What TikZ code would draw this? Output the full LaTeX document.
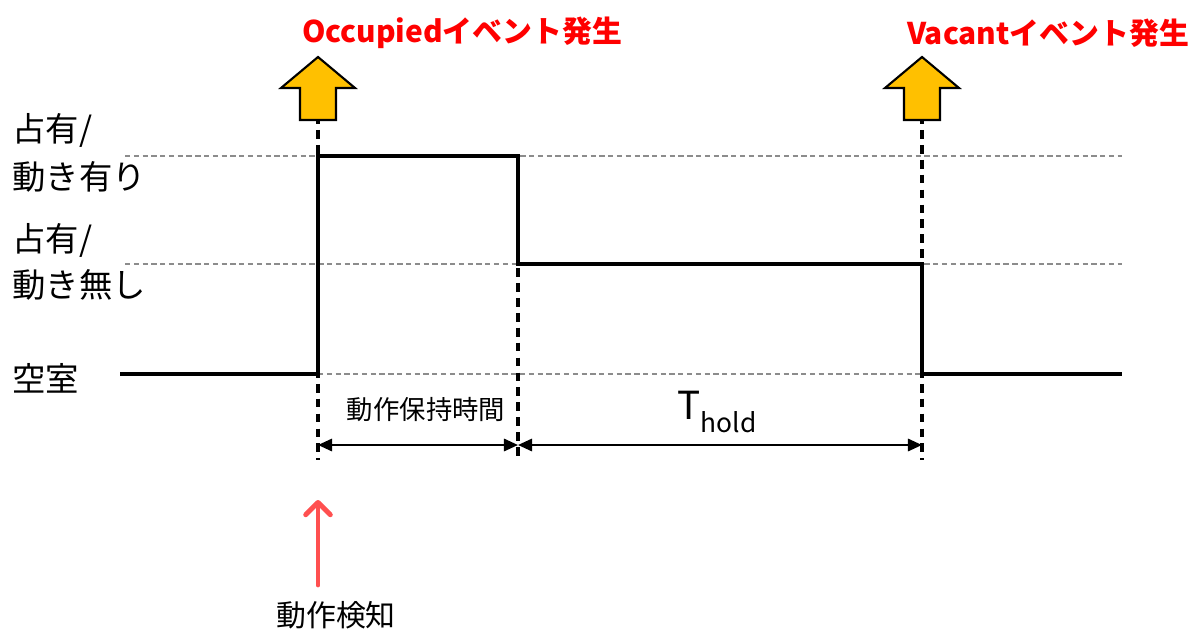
\documentclass[tikz,border=0pt]{standalone}
\usepackage{fontspec}
\setmainfont{Noto Sans CJK JP}
\usetikzlibrary{arrows.meta}
\definecolor{evtred}{RGB}{255,0,0}
\definecolor{blockyellow}{RGB}{255,192,0}
\definecolor{detred}{RGB}{255,80,80}

\begin{document}
\begin{tikzpicture}[x=0.02cm,y=-0.02cm,
    signal/.style={line width=2.2pt,black,line join=miter},
    guide/.style={line width=.6pt,black!45,dash pattern=on 3pt off 2pt},
    marker/.style={line width=2pt,black,dash pattern=on 5pt off 3.5pt},
    span/.style={line width=1.3pt,{Triangle[length=8pt,width=7pt]}-{Triangle[length=8pt,width=7pt]}},
    level/.style={anchor=west,inner sep=0pt,font=\fontsize{19}{22}\selectfont},
    event/.style={inner sep=0pt,text=evtred,font=\bfseries\fontsize{17}{20}\selectfont}]
    \useasboundingbox (0,0) rectangle (1196,632);

    % state levels
    \foreach \y/\n in {156/hi,264/mid} {
    \draw[guide] (125,\y) coordinate (g\n) -- (1122,\y);}
    \draw[guide] (318,374) -- (922,374);

    \node[level] (hi1) at (12,130) {占有/};
    \node[level] (hi2) at (12,177) {動き有り};
    \node[level] (mid1) at (12,240) {占有/};
    \node[level] (mid2) at (12,285) {動き無し};
    \node[level] (lo) at (12,378) {空室};

    % signal
    \coordinate (s0) at (120,374);
    \coordinate (on) at (318,374);
    \coordinate (onhi) at (318,156);
    \coordinate (hold) at (518,156);
    \coordinate (holdmid) at (518,264);
    \coordinate (vac) at (922,264);
    \coordinate (vaclo) at (922,374);
    \coordinate (s1) at (1122,374);
    \draw[signal] (s0) -- (on) -- (onhi) -- (hold) -- (holdmid) -- (vac) -- (vaclo) -- (s1);

    % event markers
    \foreach \x/\t in {318/100,518/268,922/100} {
    \draw[marker] (\x,\t) coordinate (m\x) -- (\x,460) coordinate (e\x);}

    \foreach \x/\n in {318/occ,922/vac} {
    \draw[line width=1.2pt,fill=blockyellow] (\x,57) coordinate (tip\n) -- (\x+37,88) -- (\x+18,88) -- (\x+18,120)
        -- (\x-18,120) -- (\x-18,88) -- (\x-37,88) -- cycle;}
    \node[event] (occ) at (462,33) {Occupiedイベント発生};
    \node[event] (vacant) at (1048,33) {Vacantイベント発生};

    % durations
    \coordinate (d0) at (318,445);
    \coordinate (d1) at (518,445);
    \coordinate (d2) at (922,445);
    \draw[span] (d0) -- (d1);
    \draw[span] (d1) -- (d2);
    \node[inner sep=0pt,font=\fontsize{15}{18}\selectfont] (keep) at (426,410) {動作保持時間};
    \node[inner sep=0pt] (thold) at (717,412) {{\fontsize{22}{24}\selectfont T}\raisebox{-7pt}{\fontsize{15}{18}\selectfont hold}};

    % detection
    \coordinate (det0) at (318,585);
    \coordinate (det1) at (318,500);
    \draw[detred,line width=2.8pt,line cap=round,-{Straight Barb[round,length=7pt,width=14pt]}] (det0) -- (det1);
    \node[inner sep=0pt,font=\fontsize{17}{20}\selectfont] (detect) at (336,615) {動作検知};
\end{tikzpicture}
\end{document}
